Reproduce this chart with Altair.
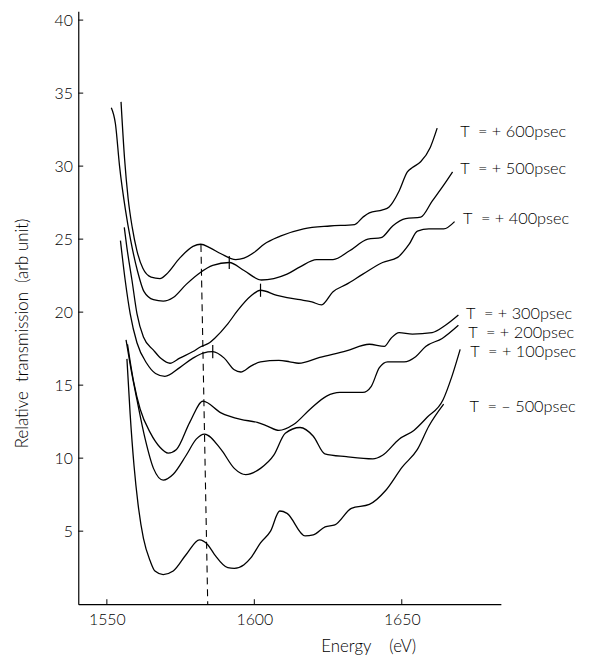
import altair as alt
import pandas as pd

# ---- data ----
e_600 = [1554.8, 1556.0, 1557.2, 1558.6, 1560.2, 1562.2, 1565.0, 1568.0, 1570.2, 1574.7, 1579.2, 1581.8, 1585.0,
         1588.7, 1593.7, 1596.5, 1600.0, 1603.3, 1608.8, 1616.7, 1625.6, 1634.0, 1636.8, 1639.0, 1643.5, 1645.7,
         1649.1, 1651.9, 1653.6, 1656.4, 1659.7, 1662.0]
v_600 = [34.4, 30.5, 27.8, 25.8, 24.2, 23.0, 22.4, 22.3, 22.6, 23.7, 24.5, 24.65, 24.4,
         24.0, 23.6, 23.7, 24.1, 24.65, 25.2, 25.7, 25.9, 26.0, 26.5, 26.8, 27.0, 27.2,
         28.3, 29.6, 29.9, 30.3, 31.3, 32.6]

e_500 = [1551.5, 1552.9, 1554.3, 1556.3, 1558.0, 1560.4, 1562.6, 1565.8, 1569.1, 1572.5, 1576.9, 1581.6, 1585.9,
         1591.5, 1596.5, 1602.4, 1606.6, 1611.1, 1615.5, 1621.1, 1626.7, 1632.3, 1638.5, 1643.0, 1646.9, 1651.3,
         1656.4, 1660.3, 1664.2, 1667.2]
v_500 = [34.0, 32.9, 30.0, 27.0, 25.0, 22.8, 21.4, 20.85, 20.75, 21.0, 21.9, 22.7, 23.2,
         23.4, 22.85, 22.2, 22.3, 22.6, 23.1, 23.6, 23.6, 24.2, 25.0, 25.1, 25.9, 26.4,
         26.5, 27.6, 28.7, 29.6]

e_400 = [1555.9, 1556.8, 1558.5, 1560.2, 1562.4, 1565.8, 1568.5, 1571.4, 1574.7, 1579.2, 1582.0, 1584.8, 1586.5,
         1591.0, 1594.3, 1598.8, 1602.1, 1607.7, 1611.1, 1615.5, 1619.5, 1622.8, 1626.7, 1631.2, 1636.8, 1643.5,
         1648.6, 1652.5, 1655.3, 1659.2, 1664.2, 1667.9]
v_400 = [25.8, 24.4, 22.2, 19.9, 18.3, 17.4, 16.8, 16.5, 16.85, 17.3, 17.65, 17.9, 18.2,
         19.2, 20.1, 21.1, 21.5, 21.15, 21.0, 20.85, 20.7, 20.5, 21.4, 21.9, 22.6, 23.4,
         23.75, 24.65, 25.55, 25.7, 25.7, 26.2]

e_300 = [1554.6, 1556.2, 1557.9, 1560.2, 1563.5, 1566.5, 1569.7, 1574.7, 1579.2, 1582.6, 1585.9, 1589.8, 1593.2,
         1595.4, 1598.8, 1602.1, 1608.3, 1612.0, 1615.0, 1622.2, 1631.2, 1639.0, 1644.1, 1646.3, 1649.1, 1653.6,
         1660.3, 1664.8, 1669.2]
v_300 = [24.9, 22.2, 19.9, 17.9, 16.5, 15.8, 15.6, 16.2, 16.85, 17.2, 17.3, 16.85, 16.05,
         15.9, 16.3, 16.6, 16.7, 16.6, 16.5, 16.9, 17.35, 17.8, 17.65, 18.2, 18.6, 18.5,
         18.6, 19.1, 19.8]

e_200 = [1557.0, 1559.1, 1561.3, 1564.7, 1568.0, 1570.8, 1573.6, 1578.1, 1582.6, 1588.7, 1595.4, 1601.0, 1604.4,
         1608.3, 1613.3, 1618.9, 1624.5, 1629.0, 1636.8, 1639.6, 1642.4, 1645.2, 1650.8, 1654.7, 1658.1, 1663.7,
         1669.2]
v_200 = [17.8, 15.2, 13.35, 11.75, 10.75, 10.35, 10.6, 12.45, 13.9, 13.1, 12.65, 12.45, 12.2,
         11.9, 12.3, 13.35, 14.25, 14.5, 14.5, 14.9, 16.2, 16.6, 16.6, 16.95, 17.65, 18.2,
         19.1]

e_100 = [1556.5, 1558.0, 1560.2, 1563.0, 1565.8, 1569.1, 1572.5, 1576.9, 1580.3, 1583.1, 1588.7, 1593.2, 1597.1,
         1602.1, 1606.6, 1610.5, 1615.5, 1620.0, 1623.9, 1631.2, 1640.2, 1643.5, 1649.1, 1654.1, 1658.6, 1664.0,
         1667.0, 1669.8]
v_100 = [18.1, 16.3, 14.0, 11.3, 9.3, 8.5, 8.9, 10.2, 11.3, 11.65, 10.6, 9.3, 8.87,
         9.3, 10.2, 11.7, 12.1, 11.5, 10.3, 10.1, 9.95, 10.2, 11.3, 11.9, 12.8, 14.0,
         15.6, 17.45]

e_m500 = [1556.8, 1557.9, 1559.2, 1560.6, 1562.4, 1564.7, 1566.3, 1569.1, 1572.5, 1576.9, 1581.4, 1584.2, 1586.5,
          1591.0, 1593.2, 1596.5, 1598.8, 1602.1, 1605.5, 1608.6, 1611.1, 1617.2, 1620.0, 1624.0, 1627.3, 1632.9,
          1639.0, 1644.6, 1650.2, 1655.3, 1659.2, 1664.2]
v_m500 = [16.8, 13.0, 9.5, 6.8, 4.5, 2.95, 2.27, 2.03, 2.27, 3.4, 4.4, 4.07, 3.4,
          2.5, 2.45, 2.7, 3.17, 4.2, 5.0, 6.38, 6.22, 4.68, 4.75, 5.3, 5.43, 6.56,
          6.83, 7.8, 9.4, 10.6, 12.2, 13.7]

series_names = ["600", "500", "400", "300", "200", "100", "-500"]
series_e = [e_600, e_500, e_400, e_300, e_200, e_100, e_m500]
series_v = [v_600, v_500, v_400, v_300, v_200, v_100, v_m500]

NB = "\u00a0"
label_texts = [f"T{NB}{NB}={NB}+{NB}600psec", f"T{NB}{NB}={NB}+{NB}500psec",
               f"T{NB}{NB}={NB}+{NB}400psec", f"T{NB}{NB}={NB}+{NB}300psec",
               f"T{NB}{NB}={NB}+{NB}200psec", f"T{NB}{NB}={NB}+{NB}100psec",
               f"T{NB}{NB}={NB}\u2013{NB}500psec"]
label_e = [1669.8, 1669.8, 1670.8, 1671.8, 1672.5, 1673.2, 1673.0]
label_v = [32.3, 29.8, 26.4, 19.9, 18.6, 17.3, 13.5]

dash_e = [1581.9, 1584.2]
dash_v = [24.6, 0.0]

peak_e = [1591.5, 1602.1, 1585.9]
peak_lo = [22.95, 21.05, 16.85]
peak_hi = [23.85, 21.95, 17.75]

x_ticks = [1550, 1600, 1650]
y_ticks = [5, 10, 15, 20, 25, 30, 35, 40]

X_DOMAIN = [1540.3, 1683.6]
Y_DOMAIN = [0, 40.6]
W, H = 427, 599
FONT = "Lato"

# ---- tables ----
rows = []
for name, es, vs in zip(series_names, series_e, series_v):
    for i, (e, v) in enumerate(zip(es, vs)):
        rows.append({"series": name, "E": e, "V": v, "order": i})
curves = pd.DataFrame(rows)
labels = pd.DataFrame({"E": label_e, "V": label_v, "text": label_texts})
dash = pd.DataFrame({"E": dash_e, "V": dash_v})
peaks = pd.DataFrame({"E": peak_e, "lo": peak_lo, "hi": peak_hi})
xt = pd.DataFrame({"E": x_ticks})
yt = pd.DataFrame({"V": y_ticks})

xscale = alt.Scale(domain=X_DOMAIN, nice=False, zero=False)
yscale = alt.Scale(domain=Y_DOMAIN, nice=False, zero=False)

x_axis = alt.Axis(values=x_ticks, ticks=False, grid=False, labelPadding=8, format="d",
                  title=f"Energy{NB}{NB}{NB}{NB}(eV)", titleX=293, titleY=48,
                  titleBaseline="alphabetic", titleAlign="center")
y_axis = alt.Axis(values=y_ticks, ticks=False, grid=False, labelPadding=6, format="d",
                  title=f"Relative{NB}{NB}transmission{NB}{NB}(arb{NB}unit)",
                  titleX=-51, titleY=325, titleAngle=270, titleAlign="center",
                  titleBaseline="alphabetic")

lines = alt.Chart(curves).mark_line(color="black", strokeWidth=1.3, interpolate="monotone").encode(
    x=alt.X("E:Q", scale=xscale, axis=x_axis),
    y=alt.Y("V:Q", scale=yscale, axis=y_axis),
    detail="series:N",
    order="order:Q",
)

dashed = alt.Chart(dash).mark_line(color="black", strokeWidth=1.1, strokeDash=[7, 5]).encode(
    x=alt.X("E:Q", scale=xscale), y=alt.Y("V:Q", scale=yscale)
)

peak_ticks = alt.Chart(peaks).mark_rule(color="black", strokeWidth=1.2).encode(
    x=alt.X("E:Q", scale=xscale), y=alt.Y("lo:Q", scale=yscale), y2="hi:Q"
)

text = alt.Chart(labels).mark_text(align="left", baseline="middle", font=FONT, fontSize=16.5,
                                   fontWeight=300, color="black").encode(
    x=alt.X("E:Q", scale=xscale), y=alt.Y("V:Q", scale=yscale), text="text:N"
)

xticks = alt.Chart(xt).mark_rule(color="black", strokeWidth=1).encode(
    x=alt.X("E:Q", scale=xscale), y=alt.value(H), y2=alt.value(H - 5)
)
yticks = alt.Chart(yt).mark_rule(color="black", strokeWidth=1).encode(
    y=alt.Y("V:Q", scale=yscale), x=alt.value(0), x2=alt.value(5)
)

chart = alt.layer(lines, dashed, peak_ticks, text, xticks, yticks).properties(
    width=W, height=H,
    autosize=alt.AutoSizeParams(type="none"),
    padding={"left": 71, "top": 0, "right": 84, "bottom": 50},
).configure(background="white").configure_view(stroke=None).configure_axis(
    domainColor="black", domainWidth=1.2,
    labelFont=FONT, labelFontSize=16, labelColor="black", labelFontWeight=300,
    titleFont=FONT, titleFontSize=17, titleFontWeight=300, titleColor="black",
)

chart.save("out.html", embed_options={"renderer": "svg", "actions": False})
